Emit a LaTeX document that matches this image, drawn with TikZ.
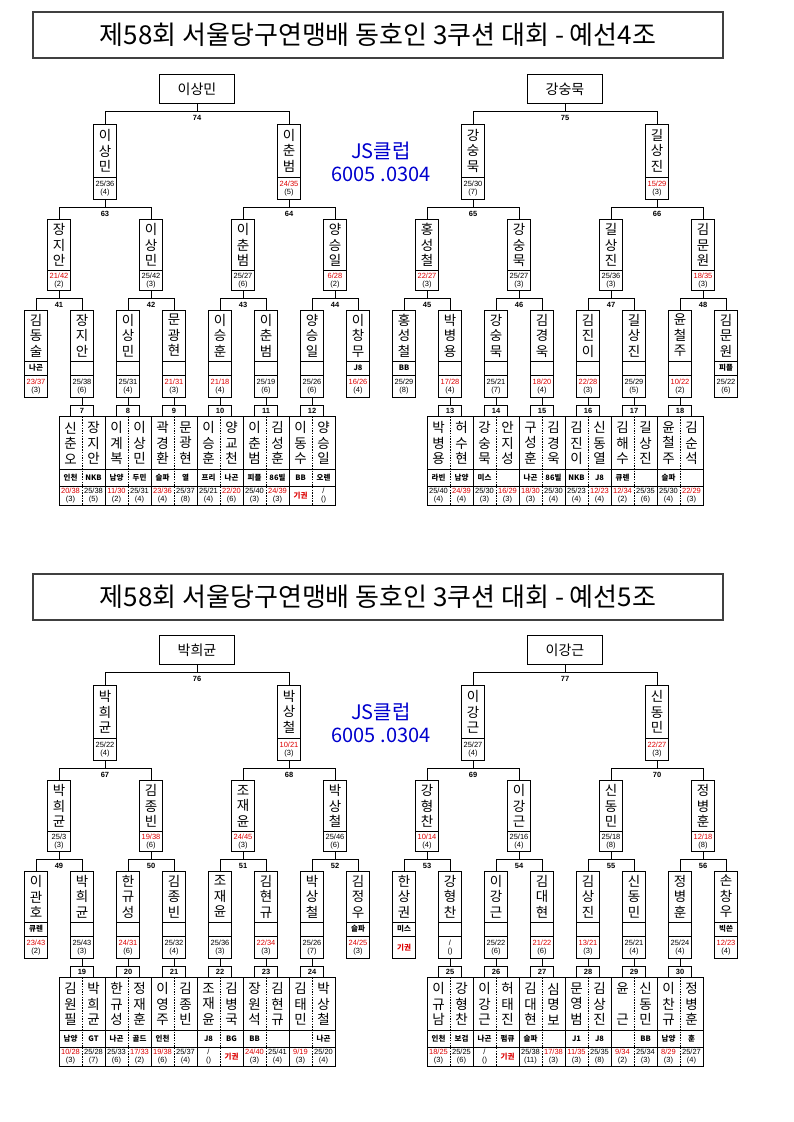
\documentclass[tikz,border=0pt]{standalone}
\usepackage{fontspec}
\setmainfont{Liberation Sans}
\newfontfamily\kr{Noto Sans CJK KR}
\usetikzlibrary{positioning}
\definecolor{losered}{RGB}{220,0,0}
\definecolor{jsblue}{RGB}{0,0,205}
\newcommand*{\W}[3]{#1/#2\\(#3)}
\newcommand*{\Ls}[3]{\color{losered}#1/#2\\(#3)}
\newcommand*{\FF}{\color{losered}\kr\bfseries 기권}
\newcommand*{\NS}{/\\()}
\newcommand*{\stagebox}[6]{%
    \node[namebox=#4] (#1) at #2 {#3};
    \node[scorebox=#5] (#1-s) [below=0pt of #1] {#6};}
\newcommand*{\leafbox}[5]{%
    \node[namebox=51pt] (#1) at #2 {#3};
    \node[clubbox] (#1-c) [below=0pt of #1] {#4};
    \node[scorebox=22.7pt] (#1-s) [below=0pt of #1-c] {#5};}
\newcommand*{\pairbox}[8]{%
    \node[labbox] (p#1) at #2 {#1};
    \node[pairrow=52.6pt] (p#1-n) [below=0pt of p#1] {};
    \node[pairrow=17.4pt] (p#1-c) [below=0pt of p#1-n] {};
    \node[pairrow=18.6pt] (p#1-s) [below=0pt of p#1-c] {};
    \draw[splitline] (p#1-n.north) -- (p#1-s.south);
    \node[pairname] (p#1-na) at ([xshift=-11.5pt]p#1-n.center) {#3};
    \node[pairname] (p#1-nb) at ([xshift=11.5pt]p#1-n.center) {#4};
    \node[clubtext] (p#1-ca) at ([xshift=-11.5pt]p#1-c.center) {#5};
    \node[clubtext] (p#1-cb) at ([xshift=11.5pt]p#1-c.center) {#6};
    \node[scoretext] (p#1-sa) at ([xshift=-11.5pt]p#1-s.center) {#7};
    \node[scoretext] (p#1-sb) at ([xshift=11.5pt]p#1-s.center) {#8};}
\newcommand*{\bracket}[4]{%
    \draw (#1.south) -- ++(0,8.5) coordinate (#1-j);
    \draw (#2.north) |- (#1-j) -| (#3.north);
    \node[numlab] (#1-l) [below=3.5pt of #1-j] {#4};}
\tikzset{
    rootbox/.style={
        draw,anchor=north,
        minimum width=75pt,minimum height=29pt,
        inner sep=0pt,outer sep=0pt,
        font=\kr\fontsize{14}{14}\selectfont,
        },
    namebox/.style={
        draw,anchor=north,align=center,
        minimum width=23pt,minimum height=#1,
        inner sep=0pt,outer sep=0pt,
        font=\kr\fontsize{13.5}{15.5}\selectfont,
        },
    clubbox/.style={
        draw,minimum width=23pt,minimum height=14pt,
        inner sep=0pt,outer sep=0pt,
        font=\kr\bfseries\fontsize{7.5}{7.5}\selectfont,
        },
    scorebox/.style={
        draw,align=center,
        minimum width=23pt,minimum height=#1,
        inner sep=0pt,outer sep=0pt,
        font=\fontsize{7.5}{8}\selectfont,
        },
    labbox/.style={
        draw,anchor=north,
        minimum width=23.6pt,minimum height=11.7pt,
        inner sep=0pt,outer sep=0pt,
        font=\bfseries\fontsize{7.5}{7.5}\selectfont,
        },
    pairrow/.style={
        draw,minimum width=46pt,minimum height=#1,
        inner sep=0pt,outer sep=0pt,
        },
    pairname/.style={align=center,inner sep=0pt,font=\kr\fontsize{13.5}{15.5}\selectfont},
    clubtext/.style={inner sep=0pt,font=\kr\bfseries\fontsize{7.5}{7.5}\selectfont},
    scoretext/.style={align=center,inner sep=0pt,font=\fontsize{7.5}{8}\selectfont},
    numlab/.style={inner sep=0pt,font=\bfseries\fontsize{7.5}{7.5}\selectfont},
    splitline/.style={dash pattern=on 1.5pt off 1.2pt},
    titlebox/.style={
        draw=black!75,line width=2pt,
        minimum width=690pt,minimum height=46pt,
        font=\kr\fontsize{26}{26}\selectfont,
        },
    jsmark/.style={align=center,text=jsblue,font=\kr\fontsize{20}{23}\selectfont},
    }
\begin{document}
\begin{tikzpicture}[x=1pt,y=-1pt,line width=0.8pt]
    \useasboundingbox (0,0) rectangle (794,1122);
    % titles
    \node[titlebox] (T1) at (378,35) {제58회 서울당구연맹배 동호인 3쿠션 대회 - 예선4조};
    \node[titlebox] (T2) at (378,596.5) {제58회 서울당구연맹배 동호인 3쿠션 대회 - 예선5조};
    \node[jsmark] (JS1) at (381,161.5) {JS클럽\\6005 .0304};
    \node[jsmark] (JS2) at (381,723) {JS클럽\\6005 .0304};
    % upper left
    \def\ox{0}\def\oy{0}
    \node[rootbox] (A-r) at (\ox+197,\oy+74.3) {이상민};
    \foreach \k/\nm/\scr in {0/이\\상\\민/\W{25}{36}{4}, 1/이\\춘\\범/\Ls{24}{35}{5}}
        {\stagebox{A-1-\k}{(\ox+105+184*\k,\oy+124.3)}{\nm}{53pt}{22pt}{\scr}}
    \foreach \j/\nm/\scr in {0/장\\지\\안/\Ls{21}{42}{2}, 1/이\\상\\민/\W{25}{42}{3},
        2/이\\춘\\범/\W{25}{27}{6}, 3/양\\승\\일/\Ls{6}{28}{2}}
        {\stagebox{A-2-\j}{(\ox+59+92*\j,\oy+219.3)}{\nm}{51.4pt}{19.6pt}{\scr}}
    \foreach \i/\nm/\cl/\scr in {0/김\\동\\술/나곤/\Ls{23}{37}{3}, 1/장\\지\\안//\W{25}{38}{6},
        2/이\\상\\민//\W{25}{31}{4}, 3/문\\광\\현//\Ls{21}{31}{3},
        4/이\\승\\훈//\Ls{21}{18}{4}, 5/이\\춘\\범//\W{25}{19}{6},
        6/양\\승\\일//\W{25}{26}{6}, 7/이\\창\\무/J8/\Ls{16}{26}{4}}
        {\leafbox{A-3-\i}{(\ox+36+46*\i,\oy+310)}{\nm}{\cl}{\scr}}
    \foreach \i/\lab/\nma/\nmb/\cla/\clb/\sca/\scb in {
        1/7/신\\춘\\오/장\\지\\안/인천/NKB/\Ls{20}{38}{3}/\W{25}{38}{5},
        2/8/이\\계\\복/이\\상\\민/남양/두민/\Ls{11}{30}{2}/\W{25}{31}{4},
        3/9/곽\\경\\환/문\\광\\현/슬파/열/\Ls{23}{36}{4}/\W{25}{37}{8},
        4/10/이\\승\\훈/양\\교\\천/프리/나곤/\W{25}{21}{4}/\Ls{22}{20}{6},
        5/11/이\\춘\\범/김\\성\\훈/피플/86빌/\W{25}{40}{3}/\Ls{24}{39}{3},
        6/12/이\\동\\수/양\\승\\일/BB/오렌/\FF/\NS}
        {\pairbox{\lab}{(\ox+36+46*\i,\oy+405)}{\nma}{\nmb}{\cla}{\clb}{\sca}{\scb}
        \draw (A-3-\i-s.south) -- (p\lab.north);}
    % upper right
    \def\ox{368}\def\oy{0}
    \node[rootbox] (B-r) at (\ox+197,\oy+74.3) {강숭묵};
    \foreach \k/\nm/\scr in {0/강\\숭\\묵/\W{25}{30}{7}, 1/길\\상\\진/\Ls{15}{29}{3}}
        {\stagebox{B-1-\k}{(\ox+105+184*\k,\oy+124.3)}{\nm}{53pt}{22pt}{\scr}}
    \foreach \j/\nm/\scr in {0/홍\\성\\철/\Ls{22}{27}{3}, 1/강\\숭\\묵/\W{25}{27}{3},
        2/길\\상\\진/\W{25}{36}{3}, 3/김\\문\\원/\Ls{18}{35}{3}}
        {\stagebox{B-2-\j}{(\ox+59+92*\j,\oy+219.3)}{\nm}{51.4pt}{19.6pt}{\scr}}
    \foreach \i/\nm/\cl/\scr in {0/홍\\성\\철/BB/\W{25}{29}{8}, 1/박\\병\\용//\Ls{17}{28}{4},
        2/강\\숭\\묵//\W{25}{21}{7}, 3/김\\경\\욱//\Ls{18}{20}{4},
        4/김\\진\\이//\Ls{22}{28}{3}, 5/길\\상\\진//\W{25}{29}{5},
        6/윤\\철\\주//\Ls{10}{22}{2}, 7/김\\문\\원/피플/\W{25}{22}{6}}
        {\leafbox{B-3-\i}{(\ox+36+46*\i,\oy+310)}{\nm}{\cl}{\scr}}
    \foreach \i/\lab/\nma/\nmb/\cla/\clb/\sca/\scb in {
        1/13/박\\병\\용/허\\수\\현/라빈/남양/\W{25}{40}{4}/\Ls{24}{39}{4},
        2/14/강\\숭\\묵/안\\지\\성/미스//\W{25}{30}{3}/\Ls{16}{29}{3},
        3/15/구\\성\\훈/김\\경\\욱/나곤/86빌/\Ls{18}{30}{3}/\W{25}{30}{4},
        4/16/김\\진\\이/신\\동\\열/NKB/J8/\W{25}{23}{4}/\Ls{12}{23}{4},
        5/17/김\\해\\수/길\\상\\진/큐렌//\Ls{12}{34}{2}/\W{25}{35}{6},
        6/18/윤\\철\\주/김\\순\\석/슬파//\W{25}{30}{4}/\Ls{22}{29}{3}}
        {\pairbox{\lab}{(\ox+36+46*\i,\oy+405)}{\nma}{\nmb}{\cla}{\clb}{\sca}{\scb}
        \draw (B-3-\i-s.south) -- (p\lab.north);}
    % lower left
    \def\ox{0}\def\oy{561}
    \node[rootbox] (C-r) at (\ox+197,\oy+74.3) {박희균};
    \foreach \k/\nm/\scr in {0/박\\희\\균/\W{25}{22}{4}, 1/박\\상\\철/\Ls{10}{21}{3}}
        {\stagebox{C-1-\k}{(\ox+105+184*\k,\oy+124.3)}{\nm}{53pt}{22pt}{\scr}}
    \foreach \j/\nm/\scr in {0/박\\희\\균/\W{25}{3}{3}, 1/김\\종\\빈/\Ls{19}{38}{6},
        2/조\\재\\윤/\Ls{24}{45}{3}, 3/박\\상\\철/\W{25}{46}{6}}
        {\stagebox{C-2-\j}{(\ox+59+92*\j,\oy+219.3)}{\nm}{51.4pt}{19.6pt}{\scr}}
    \foreach \i/\nm/\cl/\scr in {0/이\\관\\호/큐렌/\Ls{23}{43}{2}, 1/박\\희\\균//\W{25}{43}{3},
        2/한\\규\\성//\Ls{24}{31}{6}, 3/김\\종\\빈//\W{25}{32}{4},
        4/조\\재\\윤//\W{25}{36}{3}, 5/김\\현\\규//\Ls{22}{34}{3},
        6/박\\상\\철//\W{25}{26}{7}, 7/김\\정\\우/슬파/\Ls{24}{25}{3}}
        {\leafbox{C-3-\i}{(\ox+36+46*\i,\oy+310)}{\nm}{\cl}{\scr}}
    \foreach \i/\lab/\nma/\nmb/\cla/\clb/\sca/\scb in {
        1/19/김\\원\\필/박\\희\\균/남양/GT/\Ls{10}{28}{3}/\W{25}{28}{7},
        2/20/한\\규\\성/정\\재\\훈/나곤/골드/\W{25}{33}{6}/\Ls{17}{33}{2},
        3/21/이\\영\\주/김\\종\\빈/인천//\Ls{19}{38}{6}/\W{25}{37}{4},
        4/22/조\\재\\윤/김\\병\\국/J8/BG/\NS/\FF,
        5/23/장\\원\\석/김\\현\\규/BB//\Ls{24}{40}{3}/\W{25}{41}{4},
        6/24/김\\태\\민/박\\상\\철//나곤/\Ls{9}{19}{3}/\W{25}{20}{4}}
        {\pairbox{\lab}{(\ox+36+46*\i,\oy+405)}{\nma}{\nmb}{\cla}{\clb}{\sca}{\scb}
        \draw (C-3-\i-s.south) -- (p\lab.north);}
    % lower right
    \def\ox{368}\def\oy{561}
    \node[rootbox] (D-r) at (\ox+197,\oy+74.3) {이강근};
    \foreach \k/\nm/\scr in {0/이\\강\\근/\W{25}{27}{4}, 1/신\\동\\민/\Ls{22}{27}{3}}
        {\stagebox{D-1-\k}{(\ox+105+184*\k,\oy+124.3)}{\nm}{53pt}{22pt}{\scr}}
    \foreach \j/\nm/\scr in {0/강\\형\\찬/\Ls{10}{14}{4}, 1/이\\강\\근/\W{25}{16}{4},
        2/신\\동\\민/\W{25}{18}{8}, 3/정\\병\\훈/\Ls{12}{18}{8}}
        {\stagebox{D-2-\j}{(\ox+59+92*\j,\oy+219.3)}{\nm}{51.4pt}{19.6pt}{\scr}}
    \foreach \i/\nm/\cl/\scr in {0/한\\상\\권/미스/\FF, 1/강\\형\\찬//\NS,
        2/이\\강\\근//\W{25}{22}{6}, 3/김\\대\\현//\Ls{21}{22}{6},
        4/김\\상\\진//\Ls{13}{21}{3}, 5/신\\동\\민//\W{25}{21}{4},
        6/정\\병\\훈//\W{25}{24}{4}, 7/손\\창\\우/빅쓴/\Ls{12}{23}{4}}
        {\leafbox{D-3-\i}{(\ox+36+46*\i,\oy+310)}{\nm}{\cl}{\scr}}
    \foreach \i/\lab/\nma/\nmb/\cla/\clb/\sca/\scb in {
        1/25/이\\규\\남/강\\형\\찬/인천/보검/\Ls{18}{25}{3}/\W{25}{25}{6},
        2/26/이\\강\\근/허\\태\\진/나곤/펌큐/\NS/\FF,
        3/27/김\\대\\현/심\\명\\보/슬파//\W{25}{38}{11}/\Ls{17}{38}{3},
        4/28/문\\영\\범/김\\상\\진/J1/J8/\Ls{11}{35}{3}/\W{25}{35}{8},
        5/29/윤\\~\\근/신\\동\\민//BB/\Ls{9}{34}{2}/\W{25}{34}{3},
        6/30/이\\찬\\규/정\\병\\훈/남양/훈/\Ls{8}{29}{3}/\W{25}{27}{4}}
        {\pairbox{\lab}{(\ox+36+46*\i,\oy+405)}{\nma}{\nmb}{\cla}{\clb}{\sca}{\scb}
        \draw (D-3-\i-s.south) -- (p\lab.north);}
    % brackets
    \foreach \h/\rl/\la/\lb/\ma/\mb/\mc/\md in {A/74/63/64/41/42/43/44, B/75/65/66/45/46/47/48,
        C/76/67/68/49/50/51/52, D/77/69/70/53/54/55/56}
        {\bracket{\h-r}{\h-1-0}{\h-1-1}{\rl}
        \bracket{\h-1-0-s}{\h-2-0}{\h-2-1}{\la}
        \bracket{\h-1-1-s}{\h-2-2}{\h-2-3}{\lb}
        \bracket{\h-2-0-s}{\h-3-0}{\h-3-1}{\ma}
        \bracket{\h-2-1-s}{\h-3-2}{\h-3-3}{\mb}
        \bracket{\h-2-2-s}{\h-3-4}{\h-3-5}{\mc}
        \bracket{\h-2-3-s}{\h-3-6}{\h-3-7}{\md}}
\end{tikzpicture}
\end{document}
